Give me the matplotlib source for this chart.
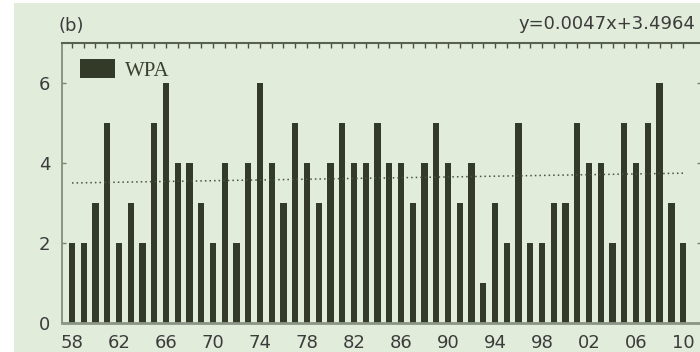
import numpy as np
import matplotlib
matplotlib.use('Agg')
from matplotlib import pyplot as plt
from matplotlib.patches import Rectangle

# 数据
years = list(range(1958, 2011))
wpa = [2, 2, 3, 5, 2, 3, 2, 5, 6, 4,
       4, 3, 2, 4, 2, 4, 6, 4, 3, 5,
       4, 3, 4, 5, 4, 4, 5, 4, 4, 3,
       4, 5, 4, 3, 4, 1, 3, 2, 5, 2,
       2, 3, 3, 5, 4, 4, 2, 5, 4, 5,
       6, 3, 2]
slope = 0.0047
intercept = 3.4964
label_years = list(range(1958, 2011, 4))

bg = '#e2ecda'
bar_color = '#333b28'
text_color = '#3c3c3c'

fig = plt.figure(figsize=(7, 3.52), dpi=100, facecolor='white')
# 背景色块 (左边和上边留一点白)
fig.patches.append(Rectangle((14 / 700, 0), 1, 1 - 3 / 352, transform=fig.transFigure,
                             facecolor=bg, edgecolor='none', zorder=-5))

ax = fig.add_axes([62 / 700, 29 / 352, 639 / 700, 280 / 352])
ax.set_facecolor('none')
ax.set_zorder(1)

bars = ax.bar(years, wpa, width=0.55, color=bar_color, label='WPA', zorder=2)

# 趋势线 y=0.0047x+3.4964, x 为序号
n = np.arange(1, len(years) + 1)
trend = slope * n + intercept
ax.plot(years, trend, linestyle=(0, (1, 2)), color='#4a5244', linewidth=1.1, zorder=3)

ax.set_xlim(1957.15, 2011.53)
ax.set_ylim(0, 7)
ax.set_yticks([0, 2, 4, 6])
ax.set_xticks(label_years)
ax.set_xticklabels(['%02d' % (y % 100) for y in label_years])
ax.set_xticks(years, minor=True)

ax.tick_params(axis='x', which='both', top=True, bottom=False, direction='in',
               length=3.5, width=1, color='#4a5244', labelbottom=True,
               labelsize=13, labelcolor=text_color, pad=8)
ax.tick_params(axis='y', left=True, right=True, direction='in', length=3, width=1,
               color='#7c8474', labelsize=13, labelcolor=text_color, pad=8.5)

ax.spines['left'].set_color('#7c8474')
ax.spines['left'].set_linewidth(1.2)
ax.spines['top'].set_color('#5a6152')
ax.spines['top'].set_linewidth(1.5)
ax.spines['bottom'].set_color('#8c9486')
ax.spines['bottom'].set_linewidth(2)
ax.spines['right'].set_color('#7c8474')

leg = ax.legend(loc='upper left', bbox_to_anchor=(18 / 639, 1 - 16 / 280),
                frameon=False, borderpad=0, borderaxespad=0,
                handlelength=1.68, handleheight=1.06, handletextpad=0.48,
                prop={'family': 'Liberation Serif', 'size': 15})
for t in leg.get_texts():
    t.set_color('#3a4030')

fig.text(59 / 700, 1 - 26 / 352, '(b)', fontsize=13, color=text_color, va='center', ha='left')
fig.text(695 / 700, 1 - 24 / 352, 'y=0.0047x+3.4964', fontsize=13, color=text_color,
         va='center', ha='right')

plt.savefig('out.png', dpi=100, facecolor='white')
